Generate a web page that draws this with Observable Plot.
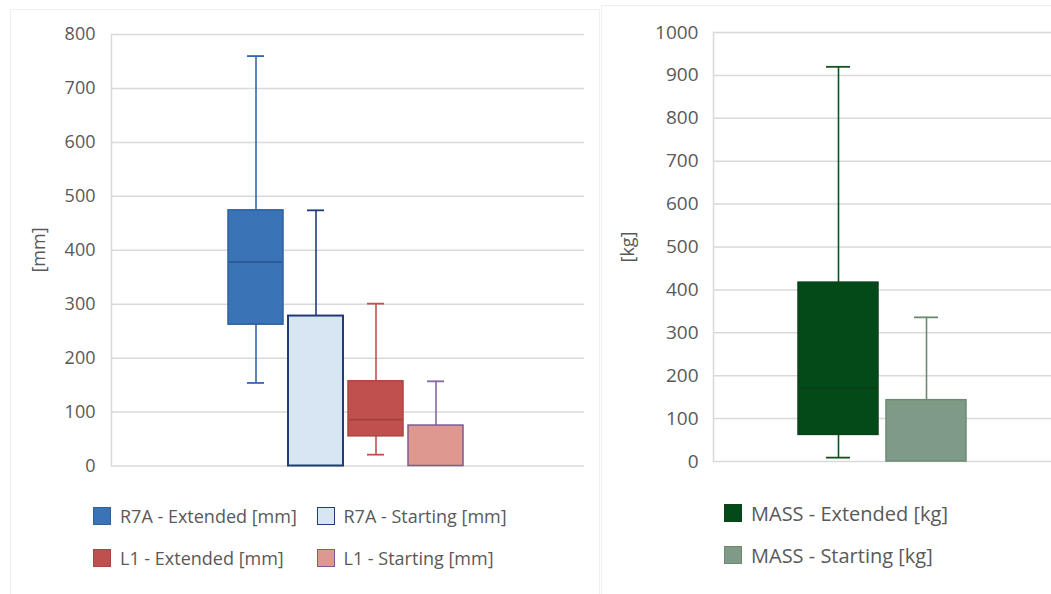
<!DOCTYPE html>
<html>
<head>
<meta charset="utf-8">
<script src="https://cdn.jsdelivr.net/npm/d3@7"></script>
<script src="https://cdn.jsdelivr.net/npm/@observablehq/plot@0.6"></script>
<style>
  body { margin: 0; background: #fff; font-family: "Open Sans", sans-serif; }
  #wrap { position: relative; width: 1051px; height: 594px; overflow: hidden; background: #fff; }
  .panel { position: absolute; border: 1px solid #efefef; background: #fff; box-sizing: border-box; }
  .chart { position: absolute; top: 0; }
  .leg { position: absolute; display: flex; align-items: center; height: 18px; font-size: 18px; color: #595959; white-space: nowrap; }
  .leg.big { font-size: 20px; }
  .sw { width: 18px; height: 18px; box-sizing: border-box; border: 1.5px solid; margin-right: 9px; flex: none; }
  .ytitle { position: absolute; transform: translate(-50%, -50%) rotate(-90deg); font-size: 18px; color: #595959; white-space: nowrap; }
</style>
</head>
<body>
<div id="wrap">
  <div class="panel" style="left:10px;top:9px;width:590px;height:600px;"></div>
  <div class="panel" style="left:601px;top:5px;width:460px;height:600px;"></div>
  <div id="left" class="chart" style="left:0px;"></div>
  <div id="right" class="chart" style="left:600px;"></div>
  <div class="ytitle" style="left:38px;top:250px;">[mm]</div>
  <div class="ytitle" style="left:627px;top:247px;">[kg]</div>
  <div id="legends"></div>
</div>
<script>
// ---- Data ----
const mmSeries = ["R7A - Extended [mm]", "R7A - Starting [mm]", "L1 - Extended [mm]", "L1 - Starting [mm]"];
const mmMin    = [154,   0,  21,   0];
const mmQ1     = [262,   0,  55,   0];
const mmMedian = [378,   0,  86,   0];
const mmQ3     = [474, 278, 157,  75];
const mmMax    = [760, 474, 301, 157];
const mmTicks  = [0, 100, 200, 300, 400, 500, 600, 700, 800];

const kgSeries = ["MASS - Extended [kg]", "MASS - Starting [kg]"];
const kgMin    = [9,   0];
const kgQ1     = [62,  0];
const kgMedian = [172, 0];
const kgQ3     = [417, 143];
const kgMax    = [920, 336];
const kgTicks  = [0, 100, 200, 300, 400, 500, 600, 700, 800, 900, 1000];

// ---- Styles ----
const mmFill    = ["#3a74b7", "#d7e6f2", "#c0504d", "#df9890"];
const mmStroke  = ["#2f609d", "#1f3b7b", "#ab4440", "#7b5b93"];
const mmWhisk   = ["#3468a9", "#1f3b7b", "#c0504d", "#8468a0"];
const mmMedC    = ["#2b5892", "#1f3b7b", "#a3403c", "#7b5b93"];
const kgFill    = ["#034a19", "#7f9a86"];
const kgStroke  = ["#0e401c", "#6b8a72"];
const kgWhisk   = ["#12501f", "#6b8a72"];
const kgMedC    = ["#0c3d17", "#6b8a72"];

function rows(series, mn, q1, md, q3, mx) {
  return series.map((s, i) => ({series: s, min: mn[i], q1: q1[i], median: md[i], q3: q3[i], max: mx[i]}));
}

function boxMarks(data, fills, strokes, whisk, medc, capInset) {
  const marks = [];
  data.forEach((row, i) => {
    const d = [row];
    marks.push(Plot.ruleX(d, {x: "series", y1: "q3", y2: "max", stroke: whisk[i], strokeWidth: 1.6}));
    marks.push(Plot.tickY(d, {x: "series", y: "max", stroke: whisk[i], strokeWidth: 1.8, insetLeft: capInset, insetRight: capInset}));
    if (row.min < row.q1) {
      marks.push(Plot.ruleX(d, {x: "series", y1: "min", y2: "q1", stroke: whisk[i], strokeWidth: 1.6}));
      marks.push(Plot.tickY(d, {x: "series", y: "min", stroke: whisk[i], strokeWidth: 1.8, insetLeft: capInset, insetRight: capInset}));
    }
    marks.push(Plot.barY(d, {x: "series", y1: "q1", y2: "q3", fill: fills[i], stroke: strokes[i], strokeWidth: i === 1 && strokes === mmStroke ? 2 : 1.5}));
    if (row.median > row.q1) {
      marks.push(Plot.tickY(d, {x: "series", y: "median", stroke: medc[i], strokeWidth: 1.6, insetLeft: 1, insetRight: 1}));
    }
  });
  return marks;
}

function chart(opts) {
  return Plot.plot({
    width: opts.width,
    height: opts.height,
    marginLeft: opts.marginLeft,
    marginRight: opts.marginRight,
    marginTop: opts.marginTop,
    marginBottom: opts.marginBottom,
    style: {background: "transparent", fontFamily: "'Open Sans', sans-serif", color: "#595959", overflow: "visible"},
    x: {domain: opts.series, type: "band", paddingInner: opts.pi, paddingOuter: opts.po, align: opts.align, axis: null},
    y: {domain: opts.domain, ticks: opts.ticks, axis: null},
    marks: [
      Plot.gridY(opts.ticks, {stroke: "#d9d9d9", strokeOpacity: 1, strokeWidth: 1.5}),
      Plot.frame({anchor: "left", stroke: "#d9d9d9", strokeOpacity: 1, strokeWidth: 1.5}),
      Plot.axisY(opts.ticks, {tickSize: 0, tickPadding: opts.tickPad, fontSize: opts.tickFont, fill: "#595959", label: null, tickFormat: d => String(d)}),
      ...boxMarks(opts.data, opts.fills, opts.strokes, opts.whisk, opts.medc, opts.capInset)
    ]
  });
}

document.getElementById("left").appendChild(chart({
  width: 600, height: 480, marginLeft: 111, marginRight: 16, marginTop: 34, marginBottom: 14.5,
  series: mmSeries, pi: 0.085, po: 1.98, align: 0.49, domain: [0, 800], ticks: mmTicks, tickPad: 16, tickFont: 18,
  data: rows(mmSeries, mmMin, mmQ1, mmMedian, mmQ3, mmMax),
  fills: mmFill, strokes: mmStroke, whisk: mmWhisk, medc: mmMedC, capInset: 19
}));

document.getElementById("right").appendChild(chart({
  width: 451, height: 480, marginLeft: 113, marginRight: 0, marginTop: 32, marginBottom: 19,
  series: kgSeries, pi: 0.09, po: 0.95, align: 0.5, domain: [0, 1000], ticks: kgTicks, tickPad: 15, tickFont: 19,
  data: rows(kgSeries, kgMin, kgQ1, kgMedian, kgQ3, kgMax),
  fills: kgFill, strokes: kgStroke, whisk: kgWhisk, medc: kgMedC, capInset: 28
}));

// ---- Legends ----
const legendLayout = [
  {series: mmSeries, fills: mmFill, strokes: mmStroke, big: false, pos: [[93, 507], [316.5, 507], [93, 549], [316.5, 549]]},
  {series: kgSeries, fills: kgFill, strokes: kgStroke, big: true, pos: [[724, 504], [724, 546]]}
];
const legRoot = document.getElementById("legends");
legendLayout.forEach(g => {
  g.series.forEach((s, i) => {
    const item = document.createElement("div");
    item.className = g.big ? "leg big" : "leg";
    item.style.left = g.pos[i][0] + "px";
    item.style.top = g.pos[i][1] + "px";
    const sw = document.createElement("div");
    sw.className = "sw";
    sw.style.background = g.fills[i];
    sw.style.borderColor = g.strokes[i];
    const t = document.createElement("span");
    t.textContent = s;
    item.appendChild(sw);
    item.appendChild(t);
    legRoot.appendChild(item);
  });
});
</script>
</body>
</html>
